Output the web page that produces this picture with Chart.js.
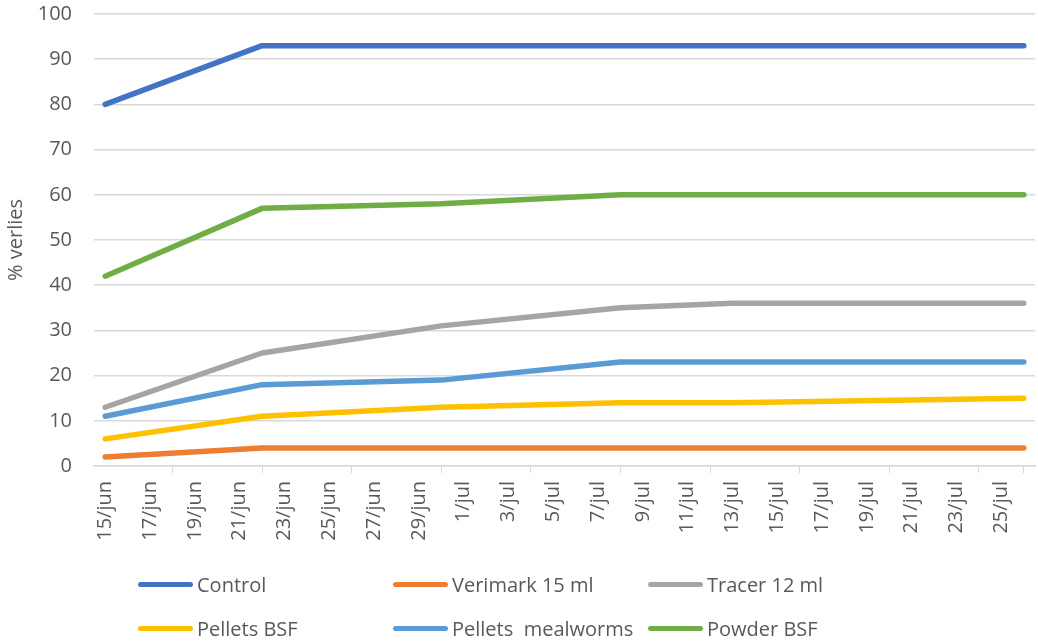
<!DOCTYPE html>
<html>
<head>
<meta charset="utf-8">
<script src="https://cdn.jsdelivr.net/npm/chart.js@4"></script>
<style>
  html, body { margin: 0; padding: 0; background: #fff; }
  #wrap { position: relative; width: 1038px; height: 643px; font-family: "Open Sans", sans-serif; }
  #chartBox { position: absolute; left: 0; top: 0; width: 1038px; height: 643px; }
  #legend { position: absolute; left: 138px; top: 570px; display: grid; grid-template-columns: 255px 255px 255px; row-gap: 16px; }
  .item { display: flex; align-items: center; height: 28px; font-size: 20px; color: #595959; white-space: pre; }
  .swatch { width: 55px; height: 5px; border-radius: 3px; margin-right: 4px; }
</style>
</head>
<body>
<div id="wrap">
  <div id="chartBox"><canvas id="lossChart"></canvas></div>
  <div id="legend"></div>
</div>
<script>
// measurement days
const sampleDays = ["15/jun", "22/jun", "30/jun", "8/jul", "13/jul", "26/jul"];

const seriesNames = ["Control", "Verimark 15 ml", "Tracer 12 ml", "Pellets BSF", "Pellets  mealworms", "Powder BSF"];
const control   = [80, 93, 93, 93, 93, 93];
const verimark  = [2, 4, 4, 4, 4, 4];
const tracer    = [13, 25, 31, 35, 36, 36];
const pelletsBSF = [6, 11, 13, 14, 14, 15];
const mealworms = [11, 18, 19, 23, 23, 23];
const powderBSF = [42, 57, 58, 60, 60, 60];
const colors = ["#4472C4", "#ED7D31", "#A5A5A5", "#FFC000", "#5B9BD5", "#70AD47"];

const yTicks = [0, 10, 20, 30, 40, 50, 60, 70, 80, 90, 100];

// date axis: every day from 15/jun to 26/jul, label every 2nd day
let dayLabels = [];
for (let d = 15; d <= 30; d++) dayLabels.push(d + "/jun");
for (let d = 1; d <= 26; d++) dayLabels.push(d + "/jul");

const allSeries = [control, verimark, tracer, pelletsBSF, mealworms, powderBSF];
const gridGrey = "#d9d9d9";
const textGrey = "#595959";
const font = { family: "'Open Sans', sans-serif", size: 20 };

const chart = new Chart(document.getElementById("lossChart"), {
  type: "line",
  data: {
    labels: dayLabels,
    datasets: allSeries.map((vals, i) => ({
      label: seriesNames[i],
      data: vals.map((v, j) => ({ x: sampleDays[j], y: v })),
      borderColor: colors[i],
      backgroundColor: colors[i],
      borderWidth: 5.5,
      borderCapStyle: "round",
      borderJoinStyle: "round",
      pointRadius: 0,
      tension: 0
    }))
  },
  options: {
    responsive: true,
    maintainAspectRatio: false,
    animation: false,
    layout: { padding: { left: 4, right: 3, top: 14, bottom: 93 } },
    plugins: { legend: { display: false }, tooltip: { enabled: false } },
    scales: {
      x: {
        type: "category",
        offset: true,
        grid: {
          offset: true,
          drawOnChartArea: false,
          drawTicks: true,
          tickLength: 7,
          color: ctx => (ctx.index === undefined || ctx.index % 2 === 0) ? gridGrey : "rgba(0,0,0,0)"
        },
        border: { color: gridGrey, width: 1.5 },
        ticks: {
          autoSkip: false,
          minRotation: 90,
          maxRotation: 90,
          padding: 8,
          color: textGrey,
          font: font,
          callback: function (value, index) {
            return index % 2 === 0 ? this.getLabelForValue(value) : null;
          }
        },
        afterFit: axis => {
          axis.height = 84;
          axis.paddingLeft = 0;
          axis.paddingRight = 0;
        }
      },
      y: {
        min: 0,
        max: 100,
        afterBuildTicks: axis => { axis.ticks = yTicks.map(v => ({ value: v })); },
        grid: { color: gridGrey, lineWidth: 1.5, drawTicks: false },
        border: { display: false },
        ticks: { padding: 22, color: textGrey, font: font },
        title: { display: true, text: "% verlies", color: textGrey, font: font, padding: { top: 0, bottom: 4 } },
        afterFit: axis => {
          axis.width = 90;
          axis.paddingTop = 0;
          axis.paddingBottom = 0;
        }
      }
    }
  }
});

// legend in three fixed columns
const legendBox = document.getElementById("legend");
chart.data.datasets.forEach(ds => {
  legendBox.innerHTML += `
    <div class="item"><span class="swatch" style="background:${ds.borderColor}"></span>${ds.label}</div>
  `;
});
</script>
</body>
</html>
